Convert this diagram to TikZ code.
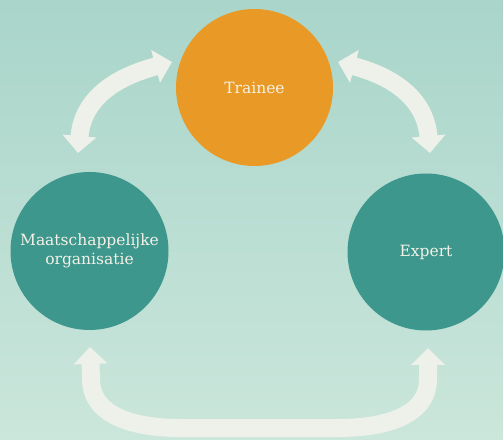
\documentclass[tikz,border=0pt]{standalone}
\usepackage{fontspec}
\setmainfont{DejaVu Serif}
\usetikzlibrary{arrows.meta}
\definecolor{bgtop}{HTML}{A9D5CA}
\definecolor{bgbot}{HTML}{CBE6DB}
\definecolor{orangec}{HTML}{E99A26}
\definecolor{tealc}{HTML}{3E978C}
\definecolor{arrowc}{HTML}{EEF0EA}
\definecolor{textc}{HTML}{F4F1E8}
\tikzset{
  bubble/.style={circle, inner sep=0pt, align=center, text=textc, font=\fontsize{15.5}{18.5}\selectfont},
  orangebubble/.style={bubble, fill=orangec},
  tealbubble/.style={bubble, fill=tealc},
  flow/.style={draw=arrowc, line width=18pt, {Triangle[width=33pt,length=17pt]}-{Triangle[width=33pt,length=17pt]}}
}
\begin{document}
\begin{tikzpicture}[x=1pt,y=1pt]
\useasboundingbox (0,0) rectangle (503,439);
\shade[top color=bgtop, bottom color=bgbot] (0,0) rectangle (503,439);
\node[orangebubble, minimum size=157pt] (trainee) at (254.5,351.5) {Trainee};
\node[tealbubble, minimum size=158pt] (maat) at (89.5,188) {Maatschappelijke\\organisatie};
\node[tealbubble, minimum size=157pt] (expert) at (426,187) {Expert};
% arrow end points
\coordinate (a1) at (78,286);
\coordinate (a2) at (172,377);
\coordinate (b1) at (338,377);
\coordinate (b2) at (430,286);
\coordinate (c1) at (90,92);
\coordinate (c2) at (428,91);
\draw[flow] (a1) to[out=85, in=195, looseness=1.1] (a2);
\draw[flow] (b1) to[out=-15, in=95, looseness=1.1] (b2);
\draw[flow] (c1) -- (91,60) to[out=-90,in=180] (180,11) -- (338,11) to[out=0,in=-90] (428,60) -- (c2);
\end{tikzpicture}
\end{document}
